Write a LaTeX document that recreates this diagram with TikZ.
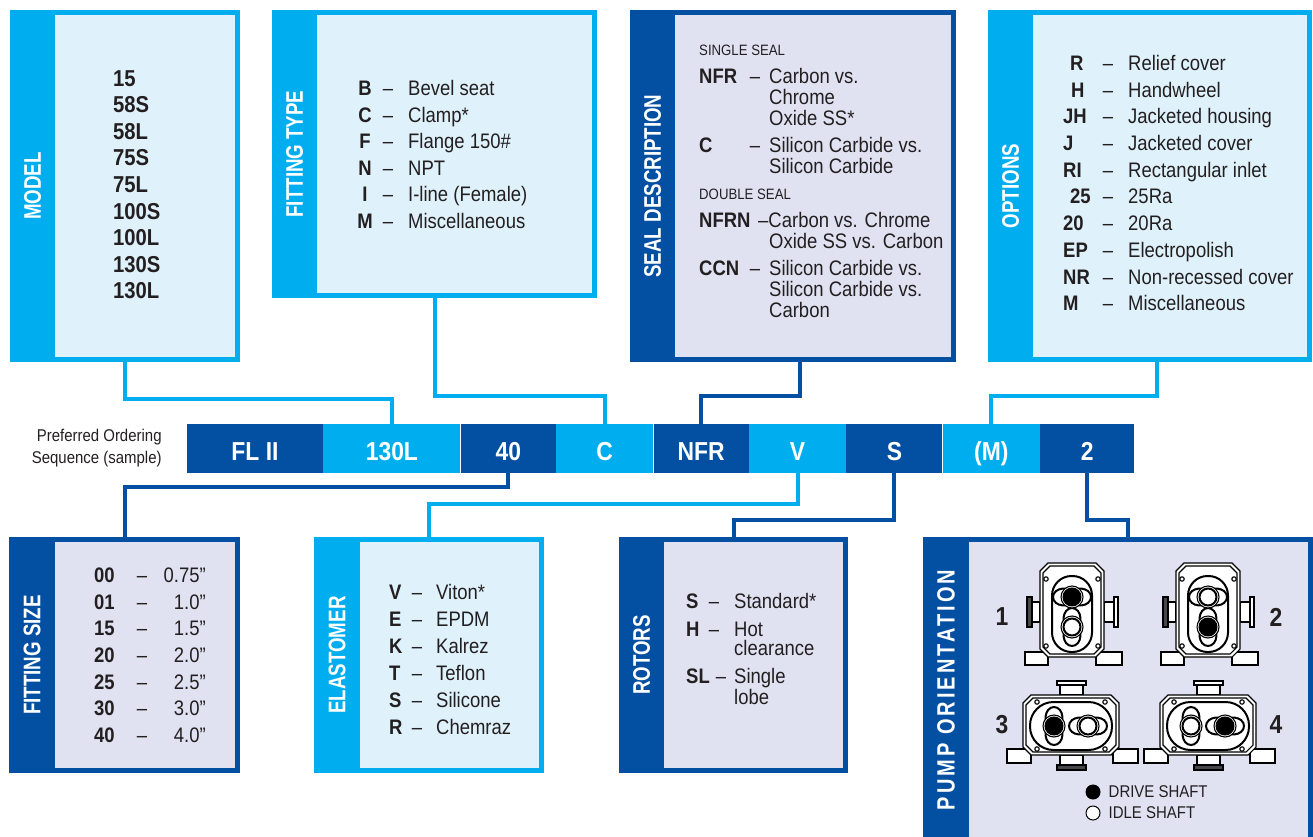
\documentclass[tikz,border=0pt]{standalone}
\usepackage{fontspec}
\setmainfont[FakeStretch=0.88]{Liberation Sans}
\newfontfamily\tabfont[FakeStretch=0.78]{Liberation Sans}
\newfontfamily\spacedfont[FakeStretch=0.8,LetterSpace=12]{Liberation Sans}
\usetikzlibrary{positioning}
\definecolor{pCyan}{RGB}{0,174,239}
\definecolor{pBlue}{RGB}{3,79,162}
\definecolor{pCyanLight}{RGB}{223,241,251}
\definecolor{pBlueLight}{RGB}{224,226,242}
\definecolor{pInk}{RGB}{35,31,32}
\definecolor{pFlange}{RGB}{70,70,75}
\tikzset{
    cbox/.style={draw=pCyan, line width=5pt, fill=pCyanLight, inner sep=0pt},
    dbox/.style={draw=pBlue, line width=5pt, fill=pBlueLight, inner sep=0pt},
    ctab/.style={fill=pCyan, rotate=90, inner sep=0pt, text=white, font=\tabfont\bfseries\fontsize{24}{24}\selectfont},
    dtab/.style={ctab, fill=pBlue},
    seg/.style={minimum height=49pt, inner sep=0pt, text height=24pt, text depth=0pt, text=white, font=\bfseries\fontsize{26}{26}\selectfont},
    bigcode/.style={anchor=base west, inner sep=0pt, text=pInk, font=\bfseries\fontsize{23}{23}\selectfont},
    code/.style={anchor=base, inner sep=0pt, text=pInk, font=\bfseries\fontsize{21}{21}\selectfont},
    dashtxt/.style={anchor=base, inner sep=0pt, text=pInk, font=\fontsize{21}{21}\selectfont},
    desc/.style={anchor=base west, inner sep=0pt, text=pInk, font=\fontsize{21}{21}\selectfont},
    small/.style={anchor=base west, inner sep=0pt, text=pInk, font=\fontsize{15}{15}\selectfont},
    note/.style={align=right, inner sep=0pt, text=pInk, font=\fontsize{17}{22}\selectfont},
    legend/.style={inner sep=0pt, text=pInk, font=\fontsize{17}{17}\selectfont},
    pumpno/.style={inner sep=0pt, text=pInk, font=\bfseries\fontsize{26}{26}\selectfont},
    shaftdot/.style={circle, draw=black, line width=1pt, minimum size=14pt, inner sep=0pt},
    cwire/.style={draw=pCyan, line width=4pt},
    dwire/.style={draw=pBlue, line width=4pt},
    pumpline/.style={draw=black, line width=1.1pt},
    casing/.style={draw=black, line width=2pt},
    pics/vpump/.style 2 args={code={
        \draw[pumpline, fill=white] (-47,40) rectangle (-24,53) (24,40) rectangle (50,53);
        \draw[pumpline, fill=white] (-40,-10) rectangle (-32,10) (32,-10) rectangle (42,10);
        \draw[pumpline, fill=pFlange] (-45,-15) rectangle (-40,15);
        \draw[pumpline, fill=white] (42,-15) rectangle (46,15);
        \draw[pumpline, fill=white] (-24,-49) -- (24,-49) -- (32,-41) -- (32,37) -- (24,45)
            -- (-24,45) -- (-32,37) -- (-32,-41) -- cycle;
        \draw[pumpline] (-22,-46) -- (22,-46) -- (29,-39) -- (29,35) -- (22,42)
            -- (-22,42) -- (-29,35) -- (-29,-39) -- cycle;
        \draw[casing, rounded corners=19.5pt] (-20,-36) rectangle (20,40);
        \foreach \bx/\by in {-26/-33, 26/-33, -26/34, 26/34}
            \draw[pumpline, fill=white] (\bx,\by) circle (2.2);
        \draw[casing, fill=white, shift={(0,15)}] plot[smooth cycle, domain=0:350, samples=36] (\x:{8+11*abs(sin(\x))^3});
        \draw[casing, fill=white, shift={(0,-15)}] plot[smooth cycle, domain=0:350, samples=36] (\x:{8+11*abs(cos(\x))^3});
        \draw[pumpline, fill=white] (0,-15) circle (11) (0,15) circle (11);
        \draw[casing, fill=#1] (0,-15) circle (8.5);
        \draw[casing, fill=#2] (0,15) circle (8.5);
    }},
    pics/hpump/.style 2 args={code={
        \draw[pumpline, fill=white] (-64,24) rectangle (-40,38) (42,24) rectangle (67,38);
        \draw[pumpline, fill=white] (-11,-40) rectangle (12,-30) (-11,30) rectangle (12,40);
        \draw[pumpline, fill=white] (-14,-44) rectangle (15,-40);
        \draw[pumpline, fill=pFlange] (-14,40) rectangle (15,45);
        \draw[pumpline, fill=white] (-40,-30) -- (40,-30) -- (48,-22) -- (48,22) -- (40,30)
            -- (-40,30) -- (-48,22) -- (-48,-22) -- cycle;
        \draw[pumpline] (-38,-27) -- (38,-27) -- (45,-20) -- (45,20) -- (38,27)
            -- (-38,27) -- (-45,20) -- (-45,-20) -- cycle;
        \draw[casing, rounded corners=23.5pt] (-41,-23) rectangle (41,25);
        \foreach \bx/\by in {-34/-23, 34/-23, -34/24, 34/24}
            \draw[pumpline, fill=white] (\bx,\by) circle (2.2);
        \draw[casing, fill=white, shift={(17,1)}] plot[smooth cycle, domain=0:350, samples=36] (\x:{8+11*abs(cos(\x))^3});
        \draw[casing, fill=white, shift={(-17,1)}] plot[smooth cycle, domain=0:350, samples=36] (\x:{8+11*abs(sin(\x))^3});
        \draw[pumpline, fill=white] (-17,1) circle (11) (17,1) circle (11);
        \draw[casing, fill=#1] (-17,1) circle (8.5);
        \draw[casing, fill=#2] (17,1) circle (8.5);
    }}
}

\begin{document}
\begin{tikzpicture}[x=1pt,y=-1pt]
\useasboundingbox (0,0) rectangle (1313,837);
\clip (0,0) rectangle (1313,837);

\node[cbox, minimum width=225pt, minimum height=347pt] (model) at (125,186) {};
\node[ctab, minimum width=352pt, minimum height=45pt] (modeltab) at (32.5,186) {MODEL};
\foreach \code [count=\i] in {15,58S,58L,75S,75L,100S,100L,130S,130L}
    \node[bigcode] (mc\i) at (113,{86.5+26.5*(\i-1)}) {\code};

\node[cbox, minimum width=320pt, minimum height=283pt] (fittype) at (434.5,154) {};
\node[ctab, minimum width=288pt, minimum height=45pt] (fittypetab) at (294.5,154) {FITTING TYPE};
\foreach \code/\desc [count=\i] in {B/Bevel seat, C/Clamp*, F/Flange 150\#, N/NPT, I/I-line (Female), M/Miscellaneous} {
    \node[code] (ftc\i) at (365,{95.5+26.6*(\i-1)}) {\code};
    \node[dashtxt] (ftd\i) at (388,{95.5+26.6*(\i-1)}) {–};
    \node[desc] (ftx\i) at (408,{95.5+26.6*(\i-1)}) {\desc};
}

\node[dbox, minimum width=321pt, minimum height=347pt] (seal) at (793,186) {};
\node[dtab, minimum width=352pt, minimum height=45pt] (sealtab) at (652.5,186) {SEAL DESCRIPTION};
\node[small] (single) at (699,55.5) {SINGLE SEAL};
\node[small] (double) at (699,199.5) {DOUBLE SEAL};
\foreach \y/\code in {83.5/NFR, 152.5/C, 227.5/NFRN, 275.5/CCN}
    \node[code, anchor=base west] (sc\code) at (699,\y) {\code};
\foreach \y [count=\i] in {83.5, 152.5, 275.5}
    \node[dashtxt] (sdash\i) at (755,\y) {–};
\foreach \y/\desc [count=\i] in {83.5/Carbon vs., 104.5/Chrome, 125.5/Oxide SS*, 152.5/Silicon Carbide vs., 173.5/Silicon Carbide, 248.5/Oxide SS vs. Carbon, 275.5/Silicon Carbide vs., 296.5/Silicon Carbide vs., 317.5/Carbon}
    \node[desc] (sd\i) at (769,\y) {\desc};
\node[desc] (sdnfrn) at (758,227.5) {–Carbon vs. Chrome};

\node[cbox, minimum width=319pt, minimum height=347pt] (options) at (1150,186) {};
\node[ctab, minimum width=352pt, minimum height=45pt] (optionstab) at (1010.5,186) {OPTIONS};
\foreach \x/\code/\desc [count=\i] in {1070/R/Relief cover, 1071/H/Handwheel, 1063/JH/Jacketed housing, 1063/J/Jacketed cover, 1063/RI/Rectangular inlet, 1070/25/25Ra, 1063/20/20Ra, 1063/EP/Electropolish, 1063/NR/Non-recessed cover, 1063/M/Miscellaneous} {
    \node[code, anchor=base west] (oc\i) at (\x,{70.5+26.7*(\i-1)}) {\code};
    \node[dashtxt] (od\i) at (1108,{70.5+26.7*(\i-1)}) {–};
    \node[desc] (ox\i) at (1128,{70.5+26.7*(\i-1)}) {\desc};
}

\node[seg, fill=pBlue, minimum width=136pt] (barFL) at (255,448.5) {FL II};
\node[seg, fill=pCyan, minimum width=137pt, right=0pt of barFL] (bar130L) {130L};
\node[seg, fill=pBlue, minimum width=95pt, right=0pt of bar130L] (bar40) {40};
\node[seg, fill=pCyan, minimum width=97pt, right=0pt of bar40] (barC) {C};
\node[seg, fill=pBlue, minimum width=95pt, right=0pt of barC] (barNFR) {NFR};
\node[seg, fill=pCyan, minimum width=97pt, right=0pt of barNFR] (barV) {V};
\node[seg, fill=pBlue, minimum width=96pt, right=0pt of barV] (barS) {S};
\node[seg, fill=pCyan, minimum width=97pt, right=0pt of barS] (barM) {(M)};
\node[seg, fill=pBlue, minimum width=94pt, right=0pt of barM] (bar2) {2};
\node[note, left=25pt of barFL] (ordernote) {Preferred Ordering\\Sequence (sample)};

\node[dbox, minimum width=226pt, minimum height=231pt] (fitsize) at (124.5,655) {};
\node[dtab, minimum width=236pt, minimum height=46pt] (fitsizetab) at (32,655) {FITTING SIZE};
\foreach \code/\val [count=\i] in {00/0.75”, 01/1.0”, 15/1.5”, 20/2.0”, 25/2.5”, 30/3.0”, 40/4.0”} {
    \node[code, anchor=base west] (fsc\i) at (94,{582.5+26.67*(\i-1)}) {\code};
    \node[dashtxt] (fsd\i) at (142,{582.5+26.67*(\i-1)}) {–};
    \node[desc, anchor=base east] (fsx\i) at (206,{582.5+26.67*(\i-1)}) {\val};
}

\node[cbox, minimum width=225pt, minimum height=231pt] (elast) at (429,655) {};
\node[ctab, minimum width=236pt, minimum height=46pt] (elasttab) at (337,655) {ELASTOMER};
\foreach \code/\desc [count=\i] in {V/Viton*, E/EPDM, K/Kalrez, T/Teflon, S/Silicone, R/Chemraz} {
    \node[code, anchor=base west] (ec\i) at (389,{599.5+27*(\i-1)}) {\code};
    \node[dashtxt] (ed\i) at (417,{599.5+27*(\i-1)}) {–};
    \node[desc] (ex\i) at (436,{599.5+27*(\i-1)}) {\desc};
}

\node[dbox, minimum width=224pt, minimum height=231pt] (rotors) at (733.5,655) {};
\node[dtab, minimum width=236pt, minimum height=45pt] (rotorstab) at (641.5,655) {ROTORS};
\foreach \y/\code/\dx in {608.5/S/714, 636.5/H/714, 683.5/SL/721} {
    \node[code, anchor=base west] (rc\code) at (686,\y) {\code};
    \node[dashtxt] (rd\code) at (\dx,\y) {–};
}
\foreach \y/\desc [count=\i] in {608.5/Standard*, 636.5/Hot, 655.5/clearance, 683.5/Single, 704.5/lobe}
    \node[desc] (rx\i) at (734,\y) {\desc};

\node[dbox, minimum width=385pt, minimum height=301pt] (pump) at (1118,690) {};
\node[dtab, minimum width=306pt, minimum height=46pt, font=\spacedfont\bfseries\fontsize{25}{25}\selectfont] (pumptab) at (946,690) {PUMP ORIENTATION};
\pic[name=pumpone] at (1072,612) {vpump={black}{white}};
\pic[name=pumptwo] at (1208,612) {vpump={white}{black}};
\pic[name=pumpthree] at (1071,725) {hpump={black}{white}};
\pic[name=pumpfour] at (1208,725) {hpump={white}{black}};
\node[pumpno] (no1) at (1002,617) {1};
\node[pumpno] (no2) at (1276,617) {2};
\node[pumpno] (no3) at (1002,725) {3};
\node[pumpno] (no4) at (1276,725) {4};
\node[shaftdot, fill=black] (drivedot) at (1093,792) {};
\node[legend, anchor=west, right=8pt of drivedot] (drivetxt) {DRIVE SHAFT};
\node[shaftdot, fill=white] (idledot) at (1093,813) {};
\node[legend, anchor=west, right=8pt of idledot] (idletxt) {IDLE SHAFT};

\draw[cwire] (model.south) -- ++(0,36.5) -| (bar130L.north);
\draw[cwire] (fittype.south) -- ++(0,97.5) -| (barC.north);
\draw[dwire] ([xshift=7pt]seal.south) -- ++(0,33.5) -| (barNFR.north);
\draw[cwire] ([xshift=7pt]options.south) -- ++(0,33.5) -| (barM.north);
\draw[dwire] (bar40.south) -- ++(0,14) -| (fitsize.north);
\draw[cwire] (barV.south) -- ++(0,31) -| (elast.north);
\draw[dwire] (barS.south) -- ++(0,47) -| (rotors.north);
\draw[dwire] (bar2.south) -- ++(0,47) -| ([xshift=10pt]pump.north);
\end{tikzpicture}
\end{document}
